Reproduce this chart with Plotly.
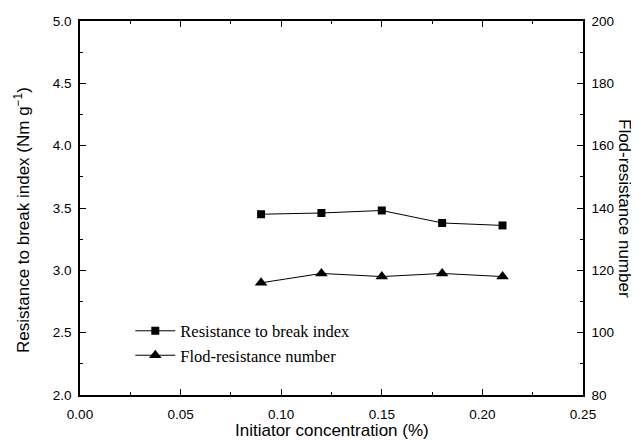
import plotly.graph_objects as go

x_conc = [0.09, 0.12, 0.15, 0.18, 0.21]
break_index = [3.45, 3.46, 3.48, 3.38, 3.36]
flod_number = [116, 119, 118, 119, 118]

fig = go.Figure()
fig.add_trace(go.Scatter(
    x=x_conc, y=break_index, mode="lines+markers",
    name="Resistance to break index",
    line=dict(color="black", width=1),
    marker=dict(symbol="square", size=8, color="black"),
    yaxis="y"))
fig.add_trace(go.Scatter(
    x=x_conc, y=flod_number, mode="lines+markers",
    name="Flod-resistance number",
    line=dict(color="black", width=1),
    marker=dict(symbol="triangle-up", size=11, color="black"),
    yaxis="y2"))

sans = "Liberation Sans, Arial"
tickfont = dict(family=sans, size=13.5, color="black")
titlefont = dict(family=sans, size=17, color="black")
# page body has an 8px margin, so the figure is sized/offset to compensate
fig.update_layout(
    width=631, height=433,
    margin=dict(l=72, r=56, t=13, b=46),
    paper_bgcolor="white", plot_bgcolor="white",
    showlegend=True,
    legend=dict(x=0.1, y=0.06, xanchor="left", yanchor="bottom",
                bgcolor="rgba(0,0,0,0)",
                font=dict(family="Liberation Serif, Times New Roman", size=16.5, color="black"),
                itemwidth=40, tracegroupgap=0),
    xaxis=dict(range=[0, 0.25], dtick=0.05, tickformat=".2f", automargin=False,
               showline=True, linecolor="black", linewidth=1.5, mirror="ticks",
               ticks="inside", ticklen=6, tickcolor="black", ticklabelstandoff=6,
               minor=dict(ticks="inside", dtick=0.025, ticklen=3, tickcolor="black"),
               showgrid=False, zeroline=False, tickfont=tickfont),
    yaxis=dict(range=[2.0, 5.0], dtick=0.5, tickformat=".1f", automargin=False,
               showline=True, linecolor="black", linewidth=1.5,
               ticks="inside", ticklen=6, tickcolor="black", ticklabelstandoff=4,
               minor=dict(ticks="inside", dtick=0.25, ticklen=3, tickcolor="black"),
               showgrid=False, zeroline=False, tickfont=tickfont),
    yaxis2=dict(range=[80, 200], dtick=20, overlaying="y", side="right", automargin=False,
                showline=True, linecolor="black", linewidth=1.5,
                ticks="inside", ticklen=6, tickcolor="black", ticklabelstandoff=4,
                minor=dict(ticks="inside", dtick=10, ticklen=3, tickcolor="black"),
                showgrid=False, zeroline=False, tickfont=tickfont),
    annotations=[
        dict(text="Initiator concentration (%)", xref="paper", yref="paper",
             x=0.5, y=0, yshift=-35, yanchor="middle", showarrow=False, font=titlefont),
        dict(text="Resistance to break index (Nm g<sup>\u22121</sup>)", xref="paper", yref="paper",
             x=0, y=0.5, xshift=-58, yshift=-12, xanchor="center", textangle=-90, showarrow=False, font=titlefont),
        dict(text="Flod-resistance number", xref="paper", yref="paper",
             x=1.0, y=0.5, xshift=42, xanchor="center", textangle=90, showarrow=False, font=titlefont),
    ],
)
fig.write_html("out.html")
